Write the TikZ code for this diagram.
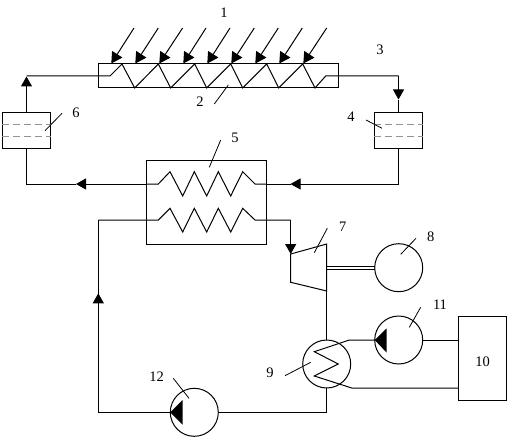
\documentclass[tikz,border=0pt]{standalone}
\usepackage{fontspec}
\setmainfont{Liberation Serif}
\usetikzlibrary{arrows.meta}
\tikzset{
  wire/.style={draw=black,line width=1pt,line join=miter},
  thin wire/.style={draw=black,line width=0.8pt},
  arw/.style={wire,-{Triangle[length=10pt,width=11pt]},shorten >=0pt},
  sunray/.style={wire,-{Triangle[length=11pt,width=12pt]}},
  tank/.style={draw=black,line width=1pt,minimum width=48.4pt,minimum height=36pt,inner sep=0,outer sep=0},
  disc/.style={circle,draw=black,line width=1pt,minimum size=48pt,inner sep=0,outer sep=0},
  gauze/.style={draw=gray!85,line width=1pt,dash pattern=on 7pt off 4pt},
  lab/.style={font=\fontsize{14.5}{14.5}\selectfont,inner sep=0,text=black},
  plate/.style={draw=black,line width=1pt,inner sep=0,outer sep=0},
}
\begin{document}
\begin{tikzpicture}[x=1pt,y=-1pt]
\useasboundingbox (0,0) rectangle (510,441);
\fill[white] (0,0) rectangle (510,441);
% main boxes
\node[plate,minimum width=240pt,minimum height=24pt] (coll) at (218.3,76) {};
\node[tank] (t6) at (26.5,130.3) {};
\node[tank] (t4) at (398.5,130.3) {};
\node[plate,minimum width=120pt,minimum height=84.3pt] (hx) at (206.7,202.2) {};
\node[plate,minimum width=48.4pt,minimum height=84.3pt] (b10) at (482.5,358.2) {};
\node[disc] (g8) at (398.7,267.7) {};
\node[disc] (p11) at (398.7,340) {};
\node[disc] (c9) at (326.7,364) {};
\node[disc] (p12) at (194.3,412.3) {};
% way points
\coordinate (tl) at (26.5,76);
\coordinate (tla) at (26.5,76.5);
\coordinate (tr) at (398.5,76);
\coordinate (tra) at (398.5,99.5);
\coordinate (bl) at (26.5,184);
\coordinate (br) at (398.5,184);
\coordinate (al) at (76,184);
\coordinate (ar) at (290.5,184);
\coordinate (hl) at (146.7,184);
\coordinate (hr) at (266.7,184);
\coordinate (k) at (290.7,220);
\coordinate (ktip) at (290.7,254);
\coordinate (tbl) at (290.7,252.7);
\coordinate (tbb) at (290.7,282.3);
\coordinate (ttr) at (326.7,244);
\coordinate (tbr) at (326.7,291);
\coordinate (ll) at (98.3,220);
\coordinate (lc) at (98.3,412.3);
\coordinate (latip) at (98.3,293.3);
\coordinate (rc) at (326.7,412.3);
% collector coil and wires
\draw[wire] (tl) -- (110,76) -- (122,64) -- (134.7,88) -- (158.3,64) -- (170.7,88) -- (194.7,64) -- (206.7,88) -- (230.7,64) -- (242.7,88) -- (266.7,64) -- (278.7,88) -- (302.7,64) -- (315,88) -- (325.7,76) -- (tr);
\draw[arw] (t6.north) -- (tla);
\draw[arw] (tr) -- (tra);
\draw[wire] (tra) -- (t4.north);
\draw[wire] (t4.south) -- (br);
\draw[arw] (br) -- (ar);
\draw[wire] (ar) -- (hr);
\draw[wire] (t6.south) -- (bl) -- (al);
\draw[arw] (hl) -- (al);
% gauze
\draw[gauze] (t6.west |- 0,124) -- (t6.east |- 0,124);
\draw[gauze] (t6.west |- 0,136) -- (t6.east |- 0,136);
\draw[gauze] (t4.west |- 0,124) -- (t4.east |- 0,124);
\draw[gauze] (t4.west |- 0,136) -- (t4.east |- 0,136);
% heat exchanger coils
\draw[wire] (hl) -- (158.3,184) -- (170,171.7) -- (182.7,196) -- (194.3,171.7) -- (206.7,196) -- (218.3,171.7) -- (230.7,196) -- (242.7,171.7) -- (255,184) -- (hr);
\draw[wire] (ll) -- (158.3,220) -- (170,208.3) -- (182.7,232) -- (194.3,208.3) -- (206.7,232) -- (218.3,208.3) -- (230.7,232) -- (242.7,208.3) -- (255,220) -- (k);
\draw[arw] (k) -- (ktip);
% turbine
\draw[wire] (ktip) -- (tbb) -- (tbr) -- (ttr) -- cycle;
\draw[wire] (tbr) -- (c9.north);
\draw[wire] (c9.south) -- (rc) -- (p12.east);
\draw[wire] (p12.west) -- (lc) -- (latip);
\draw[arw] (lc) -- (latip);
\draw[wire] (latip) -- (ll);
% shaft
\draw[thin wire] (326.7,266.6) -- (g8.west |- 0,266.6);
\draw[thin wire] (326.7,269.4) -- (g8.west |- 0,269.4);
% loop 9-11-10
\draw[wire] (p11.west) -- (349.3,340) -- (314.3,351.7) -- (338.3,364) -- (314.3,376) -- (351.7,388) -- (b10.west |- 0,388);
\draw[wire] (p11.east) -- (b10.west |- p11.east);
% pump triangles
\fill[black] (p11.west) -- (386.7,328.3) -- (386.7,352.7) -- cycle;
\fill[black] (p12.west) -- (182.7,400) -- (182.7,424.7) -- cycle;
% solar rays
\foreach \x/\t in {134/111.3,158.3/135.3,182.6/159.3,206/183.3,230/207.3,254.3/231.3,278.3/255.3,302.3/279.3,326.7/303.3}
  \draw[sunray] (\x,28) -- (\t,63.5);
% leaders
\draw[thin wire] (214.3,104) -- (228.3,85);
\draw[thin wire] (45,130.7) -- (62,113.3);
\draw[thin wire] (366,120) -- (382,128.3);
\draw[thin wire] (209.3,167.3) -- (220.7,140);
\draw[thin wire] (314.3,252.7) -- (327.3,228.3);
\draw[thin wire] (400.7,254.3) -- (416,238.3);
\draw[thin wire] (285,375.7) -- (310.7,362.3);
\draw[thin wire] (409.3,327.3) -- (420.7,307.3);
\draw[thin wire] (173.3,378.3) -- (189,398.3);
% labels
\node[lab] (l1) at (224,13) {1};
\node[lab] (l2) at (200,102) {2};
\node[lab] (l3) at (380,50) {3};
\node[lab] (l4) at (351,117) {4};
\node[lab] (l5) at (235,138) {5};
\node[lab] (l6) at (76,113) {6};
\node[lab] (l7) at (342.7,227) {7};
\node[lab] (l8) at (430.7,236.7) {8};
\node[lab] (l9) at (270,373) {9};
\node[lab] (l10) at (482.7,362) {10};
\node[lab] (l11) at (440,305) {11};
\node[lab] (l12) at (156.7,377) {12};
\end{tikzpicture}
\end{document}
